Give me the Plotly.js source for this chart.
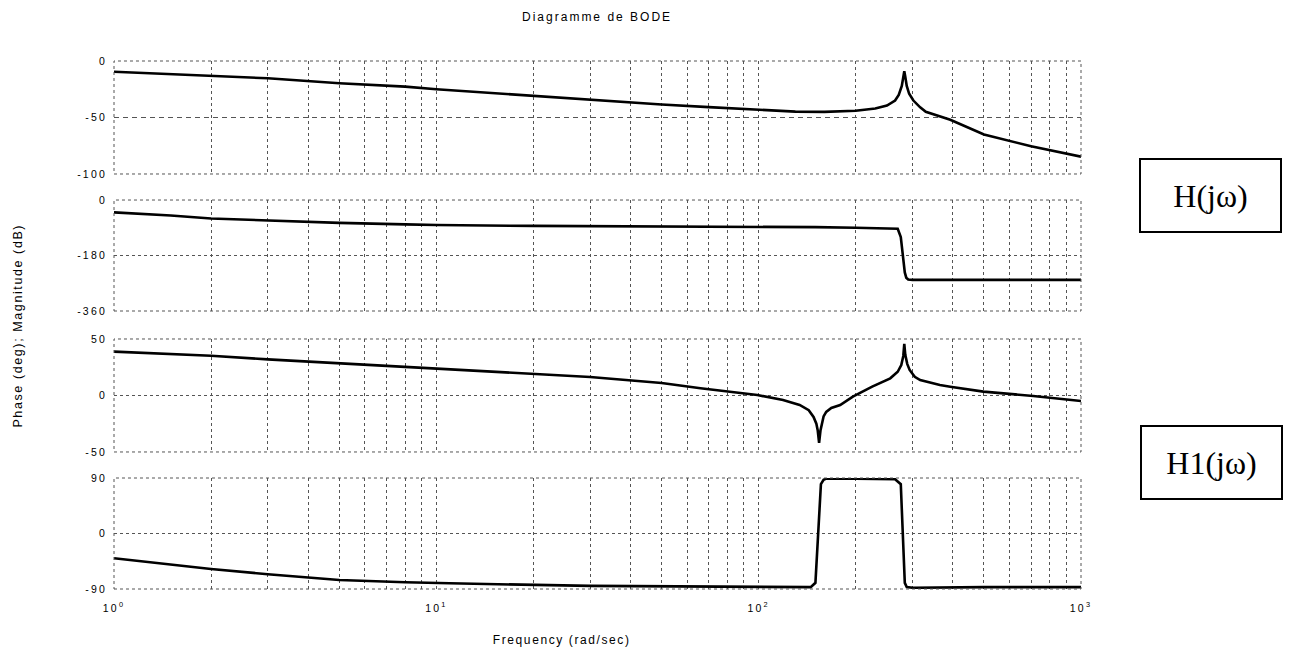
<!DOCTYPE html>
<html>
<head>
<meta charset="utf-8">
<script src="https://cdn.plot.ly/plotly-3.0.1.min.js"></script>
<style>
html,body{margin:0;padding:0;background:#fff;}
#chart{width:1289px;height:651px;}
#chart .gtitle{letter-spacing:2px;}
#chart .xtick text, #chart .ytick text, #chart .y2tick text, #chart .y3tick text, #chart .y4tick text{letter-spacing:2.2px;}
#chart .annotation[data-index="0"] text, #chart .annotation[data-index="1"] text{letter-spacing:1.6px;}
</style>
</head>
<body>
<div id="chart"></div>
<script>
// Magnitude of H(jw) in dB
const wMagH   = [1, 1.5, 2, 3, 5, 8, 10, 15, 20, 30, 50, 70, 100, 130, 160, 200, 230, 250, 265, 272, 278, 281, 283, 285, 288, 293, 302, 317, 330, 393, 500, 700, 1000];
const magH    = [-9.5, -11.5, -13, -15.3, -19.7, -22.7, -25, -28.5, -31, -34.5, -38.5, -40.8, -43.4, -44.8, -45, -44, -42, -39.5, -35, -30, -22, -14, -9, -14, -22, -29, -35, -41, -45, -52, -65, -75.5, -84.7];
// Phase of H(jw) in degrees
const wPhH    = [1, 1.5, 2, 3, 5, 8, 10, 20, 50, 100, 150, 200, 250, 270, 276, 280, 284, 287, 291, 300, 500, 1000];
const phH     = [-40, -50, -60, -67, -74, -79, -81, -84, -85, -86, -88, -90, -91, -93, -120, -180, -235, -252, -258, -259, -259, -259];
// Magnitude of H1(jw) in dB
const wMagH1  = [1, 2, 3, 5, 8, 11, 20, 30, 50, 66, 99, 119, 134, 143, 148, 151, 152.5, 154, 155.5, 157, 159, 162, 168, 179, 196, 225, 256, 270, 277, 281, 283, 285, 289, 294, 305, 317, 365, 393, 498, 711, 1000];
const magH1   = [38.8, 35.2, 32, 28.5, 25, 22.6, 19, 16.4, 11, 6.4, 0.4, -4, -8.4, -13, -19, -25, -31, -42, -31, -24, -18.5, -14.5, -11, -8.4, -1, 7.8, 15.2, 21, 27, 35, 45.6, 36, 28, 22.6, 16.5, 13.7, 9.3, 7.8, 3.4, -0.4, -4.9];
// Phase of H1(jw) in degrees
const wPhH1   = [1, 2, 3, 5, 8, 11, 30, 100, 145, 150, 153, 156, 159, 162, 200, 265, 276, 280, 284, 288, 294, 301, 500, 1000];
const phH1    = [-40, -57.6, -66, -75.4, -79, -80.8, -85, -87, -87, -80, 0, 80, 87, 89, 89, 88, 80, 0, -80, -87, -88, -88, -87, -87];

const xTickVals = [];
const xTickText = [];
for (const dec of [1, 10, 100]) {
  for (let k = 1; k <= 9; k++) {
    xTickVals.push(dec * k);
    xTickText.push(k === 1 ? '10<sup>' + Math.log10(dec) + '</sup>' : '');
  }
}
xTickVals.push(1000); xTickText.push('10<sup>3</sup>');

const lineStyle = {color: '#000', width: 2.6};
const traces = [
  {x: wMagH,  y: magH,  xaxis: 'x', yaxis: 'y',  mode: 'lines', line: lineStyle, hoverinfo: 'skip'},
  {x: wPhH,   y: phH,   xaxis: 'x', yaxis: 'y2', mode: 'lines', line: lineStyle, hoverinfo: 'skip'},
  {x: wMagH1, y: magH1, xaxis: 'x', yaxis: 'y3', mode: 'lines', line: lineStyle, hoverinfo: 'skip'},
  {x: wPhH1,  y: phH1,  xaxis: 'x', yaxis: 'y4', mode: 'lines', line: lineStyle, hoverinfo: 'skip'}
];

const tickFont = {family: 'Liberation Sans, Arial, sans-serif', size: 10.5, color: '#000'};
function yax(domain, range, vals, dash) {
  return {
    domain: domain, range: range, tickvals: vals, ticktext: vals.map(String),
    showgrid: true, gridcolor: '#555', griddash: dash, gridwidth: 1,
    zeroline: false, showline: false, ticks: '', tickfont: tickFont,
    ticklabelstandoff: 6, anchor: 'x', fixedrange: true
  };
}

const boxes = ['y', 'y2', 'y3', 'y4'].map(a => ({
  type: 'rect', xref: 'x domain', yref: a + ' domain', x0: 0, x1: 1, y0: 0, y1: 1,
  line: {color: '#555', width: 1, dash: 'dot'}, layer: 'above'
}));

const layout = {
  width: 1289, height: 651,
  margin: {l: 114, r: 208, t: 61, b: 62},
  paper_bgcolor: '#fff', plot_bgcolor: '#fff',
  showlegend: false,
  title: {text: 'Diagramme de BODE', x: 0.4632, xanchor: 'center', y: 0.974, yanchor: 'middle',
          font: {family: 'Liberation Sans, Arial, sans-serif', size: 12, color: '#000'}},
  xaxis: {
    type: 'log', range: [0, 3], anchor: 'y4', tickvals: xTickVals, ticktext: xTickText,
    showgrid: true, gridcolor: '#555', griddash: '3px,3px', gridwidth: 1,
    zeroline: false, showline: false, ticks: '', tickfont: tickFont,
    ticklabelstandoff: 11, fixedrange: true
  },
  yaxis:  yax([0.786, 1], [-100, 0], [-100, -50, 0], '5px,4px'),
  yaxis2: yax([0.5265, 0.7367], [-360, 0], [-360, -180, 0], '3px,3px'),
  yaxis3: yax([0.2595, 0.4735], [-50, 50], [-50, 0, 50], '3px,3px'),
  yaxis4: yax([0, 0.2102], [-90, 90], [-90, 0, 90], '3px,3px'),
  shapes: boxes,
  annotations: [
    {text: 'Phase (deg); Magnitude (dB)', xref: 'paper', yref: 'paper', x: -0.0993, y: 0.5,
     xanchor: 'center', yanchor: 'middle', textangle: -90, showarrow: false,
     font: {family: 'Liberation Sans, Arial, sans-serif', size: 12.5, color: '#000'}},
    {text: 'Frequency (rad/sec)', xref: 'paper', yref: 'paper', x: 0.4632, y: -0.0966,
     xanchor: 'center', yanchor: 'middle', showarrow: false,
     font: {family: 'Liberation Sans, Arial, sans-serif', size: 12, color: '#000'}},
    {text: 'H(jω)', xref: 'paper', yref: 'paper', x: 1.134, y: 0.745,
     xanchor: 'center', yanchor: 'middle', showarrow: false, width: 139, height: 71,
     bordercolor: '#000', borderwidth: 2, borderpad: 0, bgcolor: '#fff',
     font: {family: 'Liberation Serif, Times New Roman, serif', size: 32, color: '#000'}},
    {text: 'H1(jω)', xref: 'paper', yref: 'paper', x: 1.135, y: 0.2396,
     xanchor: 'center', yanchor: 'middle', showarrow: false, width: 139, height: 71,
     bordercolor: '#000', borderwidth: 2, borderpad: 0, bgcolor: '#fff',
     font: {family: 'Liberation Serif, Times New Roman, serif', size: 32, color: '#000'}}
  ]
};

Plotly.newPlot('chart', traces, layout, {displayModeBar: false, staticPlot: true});
</script>
</body>
</html>
